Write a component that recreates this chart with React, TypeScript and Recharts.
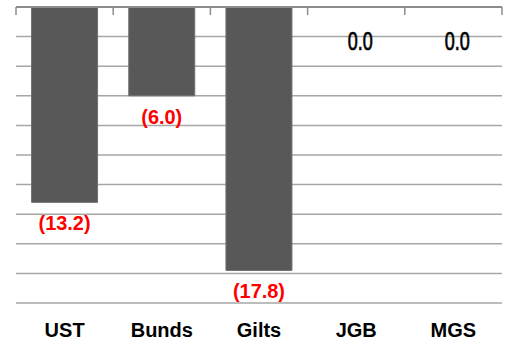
import React from 'react';
import { BarChart, Bar, XAxis, YAxis, CartesianGrid, LabelList, Rectangle } from 'recharts';

const categories = ['UST', 'Bunds', 'Gilts', 'JGB', 'MGS'];
const values = [-13.2, -6.0, -17.8, 0.0, 0.0];
const yTicks = [0, -2, -4, -6, -8, -10, -12, -14, -16, -18, -20];

const data = categories.map((name, i) => ({ name, value: values[i] }));

const FONT = '"Liberation Sans", Arial, sans-serif';
const AXIS_GREY = '#8c8c8c';

const fmt = (v: number) => (v < 0 ? `(${Math.abs(v).toFixed(1)})` : v.toFixed(1));

const ValueLabel = (props: any) => {
  const { x, y, width, height, value } = props;
  const v = Number(value);
  const top = Math.min(Number(y), Number(y) + Number(height));
  const bottom = Math.max(Number(y), Number(y) + Number(height));
  const cx = Number(x) + Number(width) / 2;
  if (v === 0) {
    return (
      <text
        transform={`translate(${cx + 4},${top + 44}) scale(0.72,1)`}
        textAnchor="middle"
        fontFamily={FONT}
        fontSize={25}
        fill="#000"
        stroke="#000"
        strokeWidth={0.7}
      >
        {fmt(v)}
      </text>
    );
  }
  return (
    <text
      transform={`translate(${cx},${bottom + 28}) scale(0.95,1)`}
      textAnchor="middle"
      fontFamily={FONT}
      fontSize={21}
      fontWeight="bold"
      fill="#ff0000"
    >
      {fmt(v)}
    </text>
  );
};

const BarShape = (props: any) => {
  if (Number(props.value) === 0) return <g />;
  return <Rectangle {...props} />;
};

// tick marks between categories on the top axis
const BoundaryTick = (props: any) => {
  const { x, y, payload, index, visibleTicksCount } = props;
  const off = Number(payload?.offset ?? 0);
  const left = Number(x) - off;
  const right = Number(x) + off;
  const yy = Number(y);
  return (
    <g>
      <line x1={left} y1={yy} x2={left} y2={yy + 8} stroke={AXIS_GREY} strokeWidth={1.5} />
      {index === visibleTicksCount - 1 ? (
        <line x1={right} y1={yy} x2={right} y2={yy + 8} stroke={AXIS_GREY} strokeWidth={1.5} />
      ) : null}
    </g>
  );
};

export default function App() {
  return (
    <div style={{ position: 'absolute', left: 0, top: 0, width: 506, height: 345, background: '#fff' }}>
      <BarChart
        width={506}
        height={345}
        data={data}
        margin={{ top: 7, right: 4, bottom: 0, left: 16 }}
        barCategoryGap="16%"
      >
        <CartesianGrid vertical={false} stroke="#a6a6a6" strokeWidth={1.5} />
        <XAxis
          dataKey="name"
          orientation="bottom"
          axisLine={false}
          tickLine={false}
          tickSize={0}
          tickMargin={20}
          height={42}
          interval={0}
          tick={{ fontFamily: FONT, fontSize: 20, fontWeight: 'bold', fill: '#000' }}
        />
        <XAxis
          xAxisId="top"
          dataKey="name"
          orientation="top"
          mirror
          height={1}
          interval={0}
          tickSize={0}
          tickMargin={0}
          tickLine={false}
          tick={BoundaryTick}
          axisLine={{ stroke: AXIS_GREY, strokeWidth: 2 }}
        />
        <YAxis hide type="number" domain={[-20, 0]} ticks={yTicks} allowDataOverflow />
        <Bar
          dataKey="value"
          fill="#585858"
          stroke="#707070"
          strokeWidth={1}
          minPointSize={1}
          shape={BarShape}
          isAnimationActive={false}
        >
          <LabelList dataKey="value" content={ValueLabel} />
        </Bar>
      </BarChart>
    </div>
  );
}
